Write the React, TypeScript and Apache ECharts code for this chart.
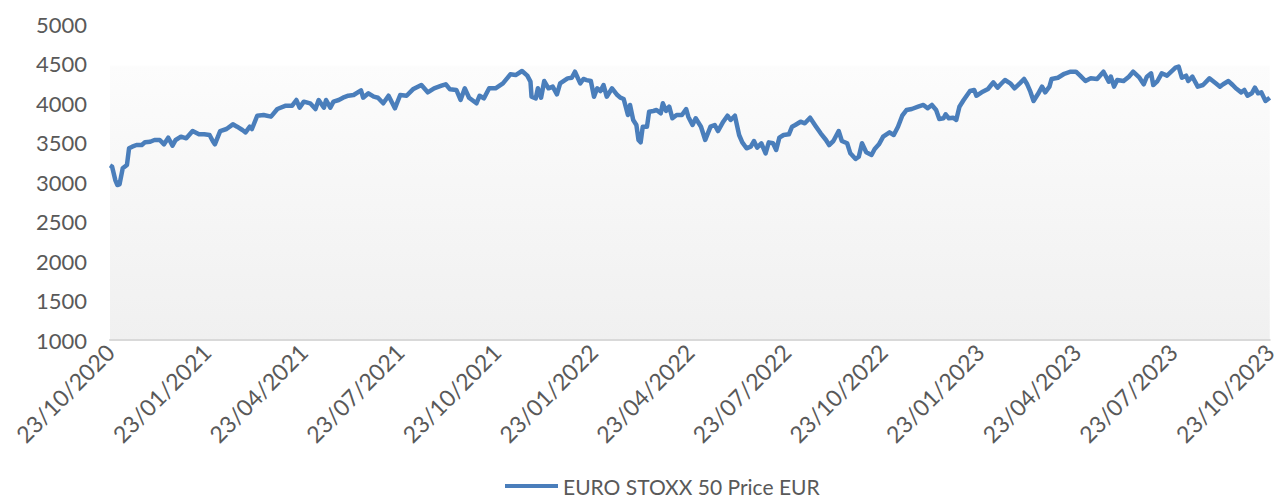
import React, { useEffect, useRef } from "react";
import * as echarts from "echarts";

const seriesName = "EURO STOXX 50 Price EUR";
const startDate = "23/10/2020";
const tickLabels = [
  "23/10/2020", "23/01/2021", "23/04/2021", "23/07/2021", "23/10/2021",
  "23/01/2022", "23/04/2022", "23/07/2022", "23/10/2022", "23/01/2023",
  "23/04/2023", "23/07/2023", "23/10/2023",
];
const totalDays = 1095;

// days since 23/10/2020
const dayOffsets = [
  0, 2, 5, 7, 9, 12, 16, 18, 21, 25, 30, 33, 38, 42, 47, 51, 55, 59, 62, 67, 72, 78, 84, 89, 94, 97, 99,
  104, 110, 116, 120, 125, 128, 132, 134, 139, 145, 152, 158, 166, 172, 176, 179, 183, 189, 194, 197,
  202, 204, 208, 211, 216, 220, 225, 230, 237, 239, 244, 249, 253, 258, 263, 269, 274, 280, 286, 294,
  300, 306, 313, 317, 321, 327, 331, 335, 339, 346, 349, 353, 358, 364, 371, 378, 383, 389, 394, 397,
  398, 402, 404, 407, 410, 414, 418, 422, 425, 432, 436, 439, 444, 447, 450, 454, 457, 460, 463, 466,
  469, 474, 479, 482, 485, 489, 491, 494, 497, 499, 501, 503, 507, 509, 513, 516, 520, 522, 525, 528,
  531, 535, 540, 544, 546, 550, 553, 558, 562, 567, 571, 574, 579, 583, 586, 590, 594, 597, 601, 605,
  608, 611, 615, 619, 622, 626, 629, 632, 636, 641, 644, 647, 652, 656, 661, 666, 671, 676, 679, 683,
  688, 691, 696, 699, 704, 707, 710, 714, 719, 722, 726, 730, 736, 740, 744, 748, 752, 757, 763, 768,
  772, 776, 780, 783, 787, 789, 792, 796, 799, 802, 806, 812, 816, 818, 823, 829, 832, 834, 838, 841,
  845, 850, 854, 859, 863, 866, 869, 872, 876, 880, 883, 887, 889, 895, 901, 907, 912, 916, 921, 926,
  932, 938, 943, 945, 948, 951, 957, 962, 966, 972, 976, 979, 983, 985, 989, 993, 998, 1002, 1006,
  1009, 1012, 1016, 1018, 1022, 1027, 1032, 1038, 1044, 1048, 1051, 1056, 1060, 1063, 1068, 1071,
  1074, 1078, 1081, 1084, 1087, 1091, 1095,
];

const prices = [
  3210, 3194, 3025, 2962, 2970, 3173, 3215, 3427, 3447, 3468, 3468, 3502, 3510, 3532, 3532, 3477, 3561,
  3460, 3532, 3574, 3553, 3645, 3604, 3604, 3595, 3519, 3477, 3645, 3671, 3730, 3700, 3658, 3629, 3700,
  3671, 3839, 3848, 3827, 3924, 3966, 3966, 4038, 3941, 4017, 3996, 3924, 4038, 3941, 4038, 3941, 4017,
  4038, 4067, 4092, 4101, 4160, 4067, 4123, 4080, 4067, 3996, 4092, 3933, 4101, 4092, 4173, 4228, 4135,
  4186, 4219, 4237, 4173, 4165, 4038, 4186, 4067, 3996, 4092, 4059, 4186, 4186, 4249, 4363, 4354, 4405,
  4346, 4270, 4080, 4059, 4186, 4067, 4278, 4186, 4207, 4110, 4249, 4312, 4320, 4396, 4249, 4304, 4290,
  4278, 4080, 4186, 4152, 4228, 4080, 4186, 4101, 4067, 4051, 3848, 3975, 3785, 3722, 3532, 3502, 3700,
  3700, 3890, 3899, 3911, 3870, 3996, 3899, 3953, 3806, 3848, 3848, 3924, 3827, 3722, 3806, 3700, 3532,
  3700, 3722, 3645, 3763, 3839, 3785, 3839, 3595, 3502, 3427, 3447, 3519, 3435, 3490, 3363, 3502, 3490,
  3405, 3561, 3595, 3604, 3700, 3722, 3763, 3743, 3814, 3713, 3616, 3532, 3468, 3519, 3645, 3519, 3490,
  3363, 3291, 3320, 3490, 3376, 3342, 3418, 3477, 3574, 3629, 3595, 3700, 3839, 3911, 3924, 3953, 3975,
  3933, 3975, 3911, 3797, 3806, 3857, 3806, 3814, 3785, 3953, 4038, 4152, 4165, 4092, 4135, 4177, 4228,
  4262, 4194, 4237, 4291, 4249, 4186, 4249, 4304, 4237, 4143, 4025, 4110, 4207, 4135, 4207, 4304, 4320,
  4370, 4396, 4396, 4346, 4278, 4312, 4304, 4396, 4270, 4333, 4207, 4291, 4278, 4333, 4396, 4320, 4237,
  4333, 4376, 4228, 4278, 4376, 4346, 4396, 4447, 4460, 4320, 4346, 4278, 4333, 4207, 4228, 4312, 4249,
  4207, 4237, 4278, 4228, 4186, 4135, 4165, 4092, 4123, 4194, 4123, 4135, 4025, 4067,
];

const yMin = 1000;
const yMax = 5000;
const yStep = 500;

export default function App() {
  const ref = useRef<HTMLDivElement>(null);

  useEffect(() => {
    if (!ref.current) return;
    const chart = echarts.init(ref.current, null, { renderer: "svg" });
    const step = totalDays / (tickLabels.length - 1);
    const font = "Lato, 'Open Sans', sans-serif";
    chart.setOption({
      animation: false,
      backgroundColor: "#ffffff",
      grid: {
        left: 110,
        right: 3,
        top: 24,
        bottom: 159,
        show: true,
        borderWidth: 0,
        backgroundColor: new echarts.graphic.LinearGradient(0, 0, 0, 1, [
          { offset: 0, color: "#ffffff" },
          { offset: 0.13, color: "#ffffff" },
          { offset: 0.135, color: "#fcfcfc" },
          { offset: 1, color: "#f0f0f0" },
        ]),
      },
      legend: {
        show: true,
        left: 505,
        top: 473,
        icon: "rect",
        itemWidth: 53,
        itemHeight: 4,
        itemGap: 10,
        padding: 0,
        textStyle: { color: "#595959", fontSize: 21, fontFamily: font, lineHeight: 26 },
        data: [{ name: seriesName }],
      },
      xAxis: {
        type: "value",
        min: 0,
        max: totalDays,
        interval: step,
        axisLine: { show: true, onZero: false, lineStyle: { color: "#d9d9d9", width: 2 } },
        axisTick: { show: false },
        splitLine: { show: false },
        axisLabel: {
          rotate: 45,
          margin: 8,
          color: "#595959",
          fontSize: 23,
          fontFamily: font,
          showMinLabel: true,
          showMaxLabel: true,
          formatter: (v: number) => tickLabels[Math.round(v / step)] ?? "",
        },
      },
      yAxis: {
        type: "value",
        min: yMin,
        max: yMax,
        interval: yStep,
        axisLine: { show: false },
        axisTick: { show: false },
        splitLine: { show: false },
        axisLabel: {
          color: "#595959",
          fontSize: 22,
          fontFamily: font,
          margin: 23,
          formatter: (v: number) => String(v),
        },
      },
      series: [
        {
          name: seriesName,
          type: "line",
          showSymbol: false,
          symbol: "none",
          clip: false,
          lineStyle: { color: "#4a7ebb", width: 4.5, join: "round" },
          itemStyle: { color: "#4a7ebb" },
          data: dayOffsets.map((d, i) => [d, prices[i]]),
        },
      ],
    });
    return () => chart.dispose();
  }, []);

  return (
    <div
      ref={ref}
      data-start={startDate}
      style={{ position: "fixed", left: 0, top: 0, width: 1280, height: 499 }}
    />
  );
}
